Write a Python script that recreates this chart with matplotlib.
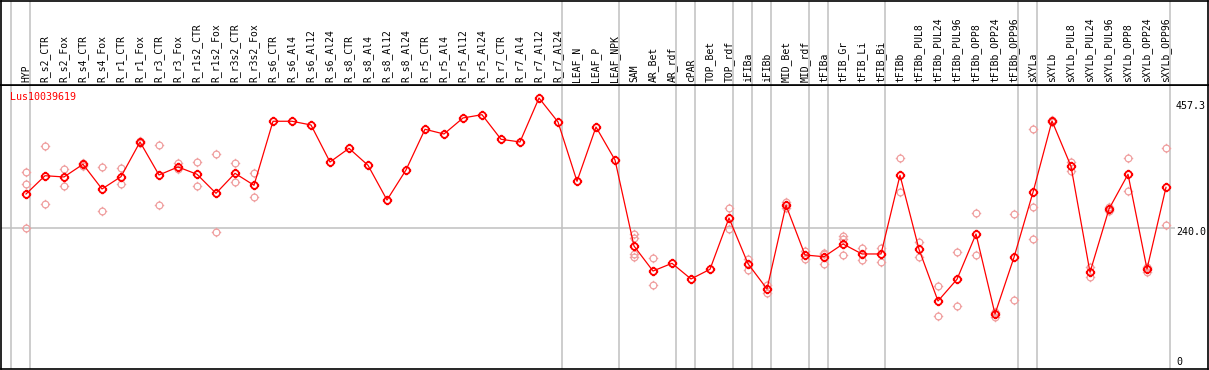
import matplotlib
matplotlib.use("Agg")
import matplotlib.pyplot as plt
from matplotlib.path import Path
import numpy as np

# --- data ---
samples = ["HYP", "R_s2_CTR", "R_s2_Fox", "R_s4_CTR", "R_s4_Fox", "R_r1_CTR", "R_r1_Fox",
           "R_r3_CTR", "R_r3_Fox", "R_r1s2_CTR", "R_r1s2_Fox", "R_r3s2_CTR", "R_r3s2_Fox",
           "R_s6_CTR", "R_s6_Al4", "R_s6_Al12", "R_s6_Al24", "R_s8_CTR", "R_s8_Al4",
           "R_s8_Al12", "R_s8_Al24", "R_r5_CTR", "R_r5_Al4", "R_r5_Al12", "R_r5_Al24",
           "R_r7_CTR", "R_r7_Al4", "R_r7_Al12", "R_r7_Al24", "LEAF_N", "LEAF_P", "LEAF_NPK",
           "SAM", "AR_Bet", "AR_rdf", "cPAR", "TOP_Bet", "TOP_rdf", "iFIBa", "iFIBb",
           "MID_Bet", "MID_rdf", "tFIBa", "tFIB_Gr", "tFIB_Li", "tFIB_Bi", "tFIBb",
           "tFIBb_PUL8", "tFIBb_PUL24", "tFIBb_PUL96", "tFIBb_OPP8", "tFIBb_OPP24",
           "tFIBb_OPP96", "sXYLa", "sXYLb", "sXYLb_PUL8", "sXYLb_PUL24", "sXYLb_PUL96",
           "sXYLb_OPP8", "sXYLb_OPP24", "sXYLb_OPP96"]

mean_expr = [296.8, 327.4, 325.3, 346.5, 305.2, 325.8, 383.8, 328.6, 342.0, 329.8, 298.0,
             331.4, 311.4, 418.4, 418.4, 412.2, 350.3, 373.2, 344.8, 286.8, 337.0, 405.0,
             397.1, 423.9, 429.4, 388.3, 383.8, 457.3, 417.2, 318.1, 408.8, 353.7, 209.9,
             168.1, 181.0, 154.8, 171.0, 256.7, 180.3, 138.1, 278.0, 194.9, 192.0, 213.3,
             196.6, 196.6, 328.1, 204.4, 118.0, 154.3, 230.0, 96.3, 191.0, 299.7, 418.9,
             343.1, 166.0, 271.8, 329.8, 171.5, 308.0]

replicates = [
    [333.1, 313.6, 239.5], [377.1, 279.6], [338.6, 310.7], [349.2, 344.0], [341.5, 268.4],
    [340.3, 313.1], [385.9, 381.7], [378.7, 278.0], [349.2, 338.1], [349.8, 310.7],
    [363.2, 232.8], [348.2, 316.4], [331.4, 291.3],
    [], [], [], [], [], [], [], [], [], [], [], [], [], [], [], [], [], [], [],
    [229.5, 222.8, 196.6, 192.0], [189.4, 144.2], [], [], [], [273.4, 238.3],
    [188.2, 169.8], [144.7, 131.9], [283.5, 273.9], [202.1, 188.2], [199.0, 197.0, 179.3],
    [227.1, 221.1, 194.4], [206.1, 186.5], [207.1, 183.2], [356.5, 300.2],
    [216.1, 191.0], [142.6, 92.4], [199.4, 109.1], [264.6, 194.9], [90.8, 100.1],
    [263.4, 119.2], [405.0, 274.6, 221.1], [420.5, 417.3], [350.8, 335.8],
    [175.3, 157.6], [274.6, 268.9], [357.0, 301.3], [174.3, 166.5], [373.2, 244.5],
]

# last column index of each sample group (grey separators)
group_ends = [-1, 0, 28, 31, 34, 35, 37, 38, 39, 41, 42, 45, 52, 53, 60]
gene_id = "Lus10039619"
axis_marks = [457.3, 240.0, 0]

RED = "#ff0000"
PINK = "#f0a0a0"
GREY = "#c0c0c0"
FONT = "DejaVu Sans Mono"

# circle with four little ticks, like the original applet marker
circle = Path.unit_circle()
verts = list(circle.vertices)
codes = list(circle.codes)
for dx, dy in [(0, 1), (0, -1), (1, 0), (-1, 0)]:
    verts += [(dx * 1.0, dy * 1.0), (dx * 1.4, dy * 1.4)]
    codes += [Path.MOVETO, Path.LINETO]
tick_circle = Path(verts, codes)

W, H = 1209, 370
fig = plt.figure(figsize=(W / 100, H / 100), dpi=100)
fig.patch.set_facecolor("white")

x = np.arange(len(samples))
xlim = (-25 / 19, (1208 - 26) / 19)
ylim = (4.35, 479.0)

ax = fig.add_axes([1 / W, 1 / H, 1207 / W, 284 / H])
hd = fig.add_axes([1 / W, 285 / H, 1207 / W, 84.5 / H])

for a in (ax, hd):
    a.set_xlim(*xlim)
    a.set_xticks([])
    a.set_yticks([])
    for s in a.spines.values():
        s.set_color("black")
        s.set_linewidth(1.2)
    for g in group_ends:
        a.axvline(g + 0.2, color=GREY, lw=1.1, zorder=0)
hd.set_ylim(0, 1)
ax.set_ylim(*ylim)

# header labels
for xi, name in zip(x, samples):
    hd.text(xi, 0.03, name, rotation=90, ha="center", va="bottom",
            fontsize=7, family=FONT, color="black")

# reference line at 240
ax.hlines(240.0, xlim[0], (1175 - 26) / 19, color=GREY, lw=1.1, zorder=0)

# replicate points
for xi, reps in zip(x, replicates):
    if reps:
        ax.plot([xi] * len(reps), reps, linestyle="none", marker=tick_circle,
                markersize=6.8, markerfacecolor="none", markeredgecolor=PINK,
                markeredgewidth=0.9, zorder=2)

# mean line
ax.plot(x, mean_expr, color=RED, lw=0.9, marker=tick_circle, markersize=6.8,
        markerfacecolor="none", markeredgecolor=RED, markeredgewidth=1.3, zorder=3)

ax.text(9 / 1207, 1 - 12 / 284, gene_id, transform=ax.transAxes, color=RED,
        fontsize=7.2, family=FONT, va="center", ha="left")

# value labels on the right
offsets = [-8.5, -4, 10]
for val, off in zip(axis_marks, offsets):
    ax.annotate(f"{val:.1f}" if val else "0", xy=((1176 - 26) / 19, val),
                xytext=(0, off), textcoords="offset pixels", ha="left", va="center",
                fontsize=7.2, family=FONT, color="black", annotation_clip=False,
                clip_on=True)

fig.savefig("out.png", dpi=100, facecolor="white")
